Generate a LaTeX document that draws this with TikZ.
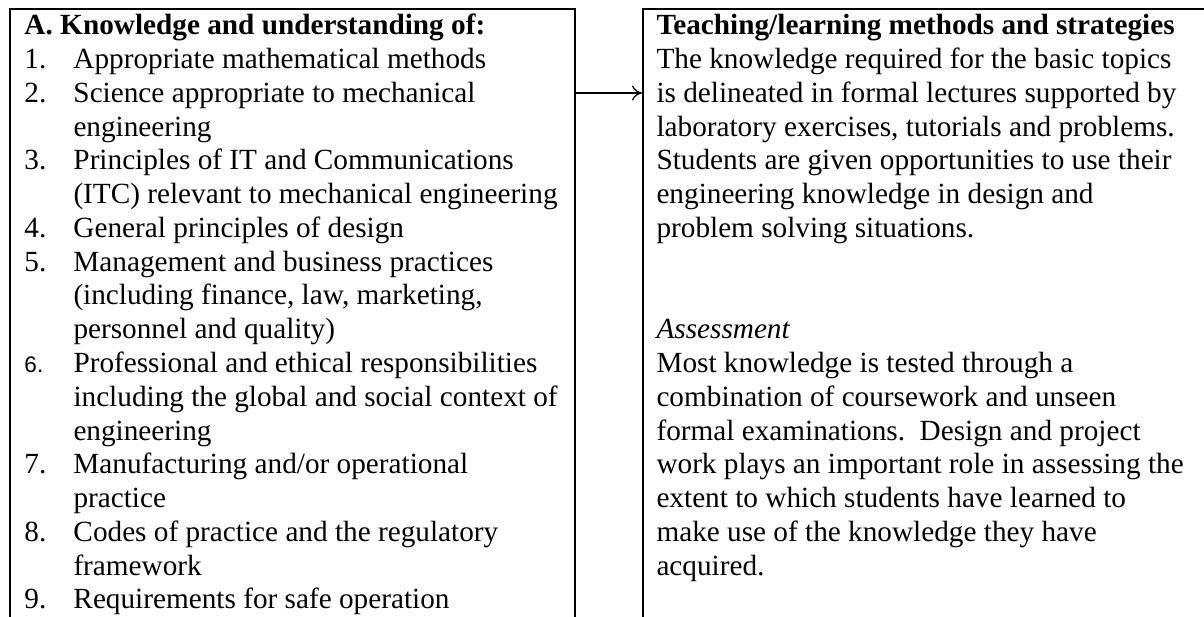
\documentclass[tikz,border=0pt]{standalone}
\usepackage{fontspec}
\setmainfont{Liberation Serif}
\setsansfont{Liberation Sans}
\usetikzlibrary{arrows.meta}
\begin{document}
\begin{tikzpicture}[x=0.4pt,y=-0.4pt,
    frame/.style={draw,line width=0.8pt,rectangle,anchor=north west,inner sep=0pt,minimum height=300pt},
    txt/.style={anchor=base west,inner sep=0pt,font=\fontsize{11.7}{13.5}\selectfont},
    link/.style={-{To[length=4pt,width=6pt]},line width=0.5pt}]
  \useasboundingbox (0,0) rectangle (1204,617);
  \clip (0,0) rectangle (1204,617);
  % the two frames, open at the bottom of the page
  \node[frame,minimum width=226pt] (leftbox) at (9,8) {};
  \node[frame,minimum width=240pt] (rightbox) at (642,8) {};
  % outcomes
  \node[txt] (outcomes) at (24,35) {\begin{tabular}[t]{@{}p{19.6pt}@{}l@{}}
    \multicolumn{2}{@{}l@{}}{\textbf{A. Knowledge and understanding of:}}\\
    1. & Appropriate mathematical methods\\
    2. & Science appropriate to mechanical\\
       & engineering\\
    3. & Principles of IT and Communications\\
       & (ITC) relevant to mechanical engineering\\
    4. & General principles of design\\
    5. & Management and business practices\\
       & (including finance, law, marketing,\\
       & personnel and quality)\\
    {\sffamily\fontsize{9}{10}\selectfont 6.} & Professional and ethical responsibilities\\
       & including the global and social context of\\
       & engineering\\
    7. & Manufacturing and/or operational\\
       & practice\\
    8. & Codes of practice and the regulatory\\
       & framework\\
    9. & Requirements for safe operation
  \end{tabular}};
  % methods
  \node[txt] (methods) at (656,35) {\begin{tabular}[t]{@{}l@{}}
    \textbf{Teaching/learning methods and strategies}\\
    The knowledge required for the basic topics\\
    is delineated in formal lectures supported by\\
    laboratory exercises, tutorials and problems.\\
    Students are given opportunities to use their\\
    engineering knowledge in design and\\
    problem solving situations.\\
    \\
    \\
    \textit{Assessment}\\
    Most knowledge is tested through a\\
    combination of coursework and unseen\\
    formal examinations.\ \ Design and project\\
    work plays an important role in assessing the\\
    extent to which students have learned to\\
    make use of the knowledge they have\\
    acquired.
  \end{tabular}};
  \coordinate (arrowrow) at (0,93);
  \draw[link] (leftbox.east |- arrowrow) -- (rightbox.west |- arrowrow);
\end{tikzpicture}
\end{document}
